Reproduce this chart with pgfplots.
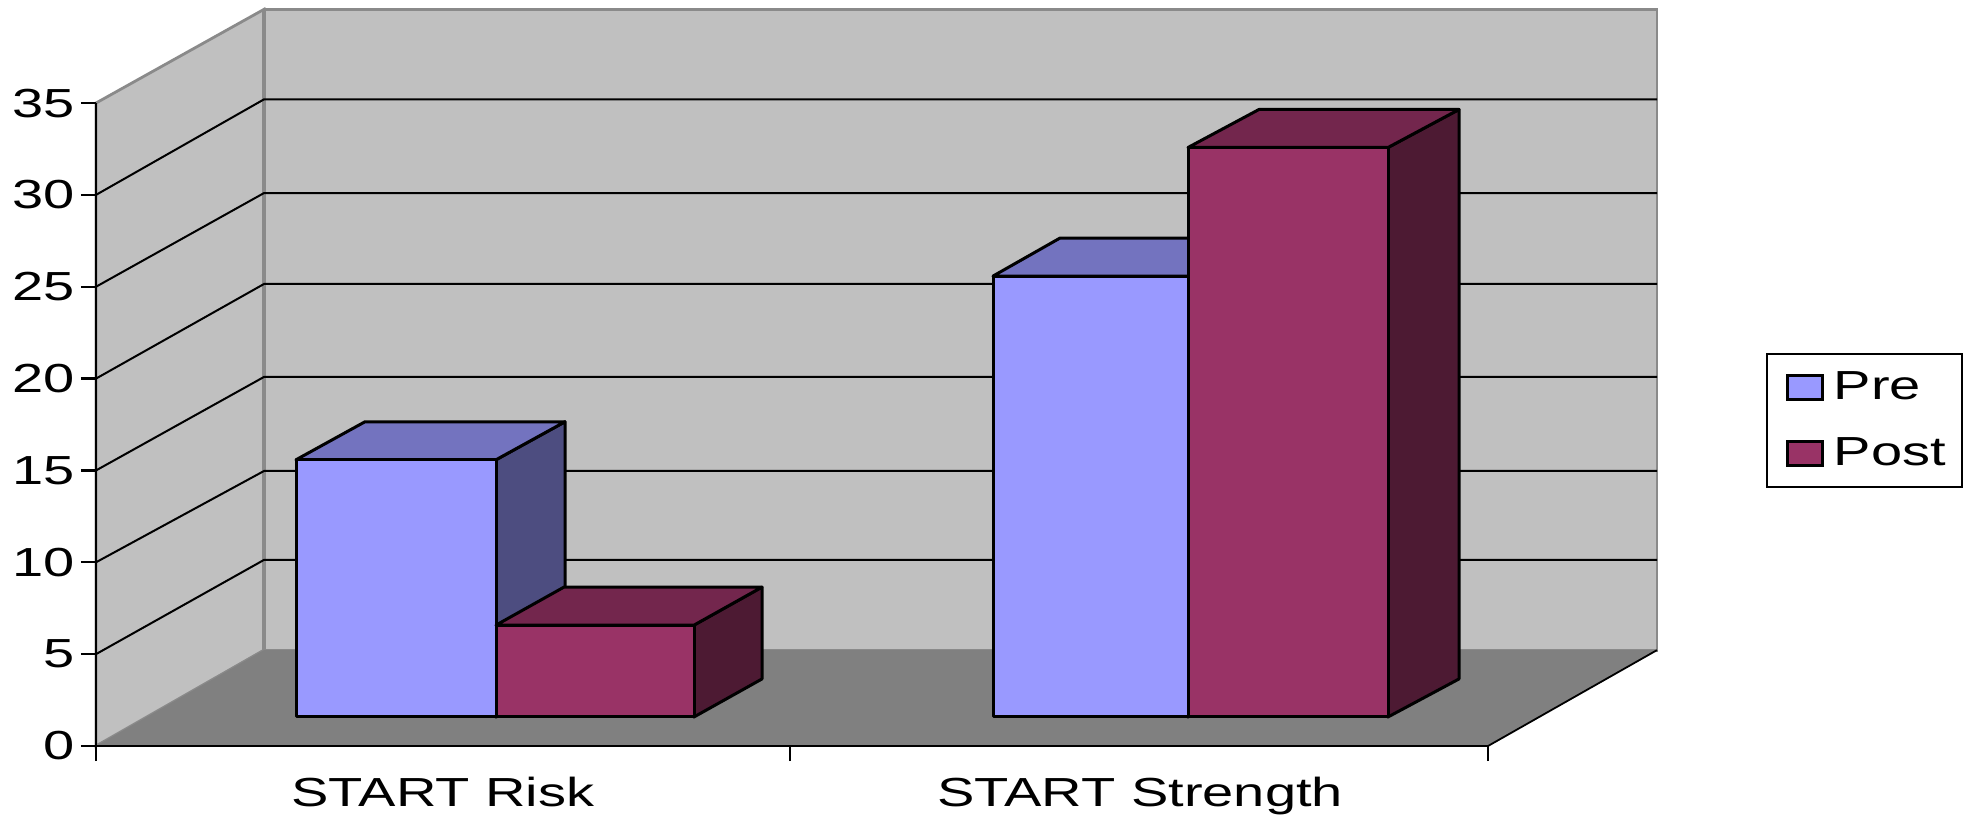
\documentclass[border=0pt]{standalone}
\usepackage{fontspec}
\setmainfont[FakeStretch=1.38]{Liberation Sans}
\usepackage{pgfplots}
\pgfplotsset{compat=1.18}
\definecolor{wall}{HTML}{C0C0C0}
\definecolor{walledge}{HTML}{8A8A8A}
\definecolor{floorgrey}{HTML}{808080}
\definecolor{preFront}{HTML}{9999FF}
\definecolor{preTop}{HTML}{7373BF}
\definecolor{preSide}{HTML}{4D4D80}
\definecolor{postFront}{HTML}{993366}
\definecolor{postTop}{HTML}{73264D}
\definecolor{postSide}{HTML}{4D1A33}

% Bar base height above the front edge and the bar's depth offset
\def\barbase{1.58}
\def\bardy{2.07}
% Box with a front, a top and a side face:
% x left, x right, value, three colours, depth in x
\newcommand{\boxbar}[7]{%
  \pgfmathsetmacro{\ytop}{\barbase+#3}%
  \pgfmathsetmacro{\ytopb}{\ytop+\bardy}%
  \pgfmathsetmacro{\ybotb}{\barbase+\bardy}%
  \pgfmathsetmacro{\xl}{#1+#7}%
  \pgfmathsetmacro{\xr}{#2+#7}%
  \addplot[forget plot,draw=black,line width=1.5pt,line join=round,fill=#5]
    coordinates {(#2,\barbase) (\xr,\ybotb) (\xr,\ytopb) (#2,\ytop)} -- cycle;
  \addplot[forget plot,draw=black,line width=1.5pt,line join=round,fill=#6]
    coordinates {(#1,\ytop) (\xl,\ytopb) (\xr,\ytopb) (#2,\ytop)} -- cycle;
  \addplot[forget plot,draw=black,line width=1.5pt,line join=round,fill=#4]
    coordinates {(#1,\barbase) (#2,\barbase) (#2,\ytop) (#1,\ytop)} -- cycle;
}

\begin{document}
\begin{tikzpicture}
\begin{axis}[
  x=0.5pt, y=9.185pt,
  xmin=96, xmax=1488, ymin=0, ymax=35,
  clip=false,
  axis on top,
  axis x line=bottom, axis y line=left,
  axis line style={-,line width=1.1pt,black},
  tick style={black,line width=1.1pt},
  tick align=outside,
  major tick length=7.5pt,
  ytick={0,5,...,35},
  xtick={96,790,1488},
  xticklabels={},
  extra x ticks={443,1140},
  extra x tick labels={START Risk,START Strength},
  extra x tick style={major tick length=0pt,
    xticklabel style={inner sep=0pt,yshift=-15.5pt}},
  /pgf/number format/assume math mode=true,
  tick label style={font=\fontsize{20.3}{24}\selectfont,black},
  yticklabel style={inner sep=0pt,xshift=-3pt},
  legend style={at={(axis cs:1963,21.39)},anchor=north east,
    draw=black,line width=1pt,fill=white,
    inner xsep=6pt,inner ysep=7pt,row sep=13.5pt,
    font=\fontsize{20.3}{24}\selectfont,
    nodes={inner sep=2pt}},
  legend cell align=left,
  legend image code/.code={
    \path[draw=none,fill=none] (0pt,0pt) -- (25.5pt,0pt);
    \draw[#1] (4.5pt,-6pt) rectangle (22pt,6pt);},
]
% Extent of the whole drawing
\path (axis cs:0,-3.81) rectangle (axis cs:1964,40.61);

% Side wall, back wall and floor
\addplot[forget plot,draw=walledge,line width=1.4pt,fill=wall]
  coordinates {(96,0) (264,5.22) (264,40.1) (96,35)} -- cycle;
\addplot[forget plot,draw=walledge,line width=1.4pt,fill=wall]
  coordinates {(264,5.22) (1657,5.22) (1657,40.1) (264,40.1)} -- cycle;
\addplot[forget plot,draw=none,fill=floorgrey]
  coordinates {(96,0) (1488,0) (1657,5.22) (264,5.22)} -- cycle;
\addplot[forget plot,draw=walledge,line width=2.2pt]
  coordinates {(264,5.22) (264,40.1)};
\addplot[forget plot,black,line width=0.9pt]
  coordinates {(1488,0) (1657,5.22)};

% Grid lines, running along the side wall and across the back wall
\addplot[forget plot,black,line width=1pt] coordinates {(96,5) (264,10.13) (1657,10.13)};
\addplot[forget plot,black,line width=1pt] coordinates {(96,10) (264,14.97) (1657,14.97)};
\addplot[forget plot,black,line width=1pt] coordinates {(96,15) (264,20.09) (1657,20.09)};
\addplot[forget plot,black,line width=1pt] coordinates {(96,20) (264,25.15) (1657,25.15)};
\addplot[forget plot,black,line width=1pt] coordinates {(96,25) (264,30.1) (1657,30.1)};
\addplot[forget plot,black,line width=1pt] coordinates {(96,30) (264,35.2) (1657,35.2)};

% START Risk
\boxbar{296}{496}{14}{preFront}{preSide}{preTop}{69}
\boxbar{496}{694}{5}{postFront}{postSide}{postTop}{68}
% START Strength
\boxbar{993}{1188}{24}{preFront}{preSide}{preTop}{67}
\boxbar{1188}{1388}{31}{postFront}{postSide}{postTop}{71}

\addlegendimage{draw=black,line width=1.5pt,fill=preFront}
\addlegendentry{Pre}
\addlegendimage{draw=black,line width=1.5pt,fill=postFront}
\addlegendentry{Post}
\end{axis}
\end{tikzpicture}
\end{document}
